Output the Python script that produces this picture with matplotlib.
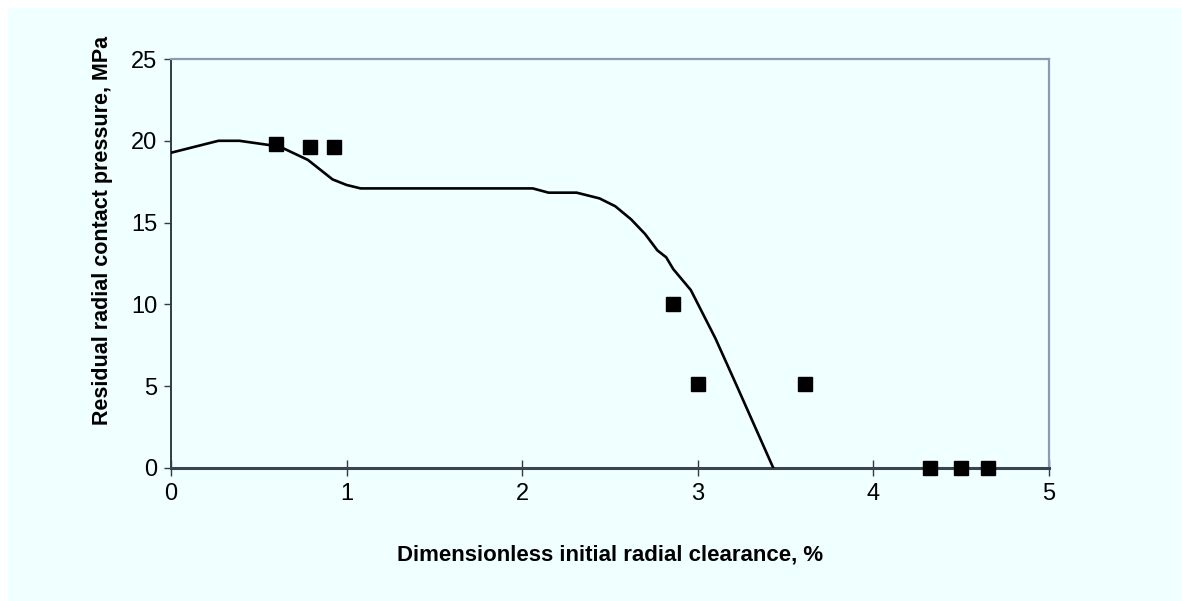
import matplotlib
matplotlib.use("Agg")
import matplotlib.pyplot as plt
from matplotlib.patches import Rectangle

# calculated curve
calc_x = [0, 0.27, 0.39, 0.56, 0.64, 0.78, 0.92, 1.0, 1.08, 2.06, 2.15, 2.31,
          2.44, 2.53, 2.62, 2.70, 2.77, 2.82, 2.86, 2.96, 3.10, 3.22, 3.43]
calc_y = [19.27, 20.0, 20.0, 19.74, 19.54, 18.83, 17.64, 17.3, 17.09, 17.09, 16.83, 16.83,
          16.48, 16.0, 15.2, 14.3, 13.3, 12.88, 12.16, 10.88, 7.93, 5.07, 0.0]

# experimental points
exp_x = [0.60, 0.79, 0.93, 2.86, 3.0, 3.61, 4.32, 4.5, 4.65]
exp_y = [19.8, 19.65, 19.65, 10.0, 5.15, 5.15, 0, 0, 0]

xticks = [0, 1, 2, 3, 4, 5]
yticks = [0, 5, 10, 15, 20, 25]

bg = "#F0FFFF"
plt.rcParams["font.family"] = ["Liberation Sans", "DejaVu Sans"]

fig = plt.figure(figsize=(11.81, 6.01), dpi=100)
fig.patch.set_facecolor("white")
fig.patches.append(Rectangle((8 / 1181, 0), 1, 1 - 8 / 601, transform=fig.transFigure,
                             facecolor=bg, edgecolor="none", zorder=-10))

ax = fig.add_axes([171 / 1181, 1 - 468 / 601, 878 / 1181, 409 / 601])
ax.set_facecolor(bg)

ax.plot(calc_x, calc_y, color="black", lw=1.9, zorder=3)
ax.plot(exp_x, exp_y, ls="none", marker="s", ms=10, color="black", clip_on=False, zorder=4)

ax.set_xlim(0, 5)
ax.set_ylim(0, 25)
ax.set_xticks(xticks)
ax.set_yticks(yticks)
ax.tick_params(axis="x", direction="inout", length=11, width=1, color="#333a44",
               labelsize=17, pad=5)
ax.tick_params(axis="y", direction="out", length=5, width=1, color="#333a44",
               labelsize=17, pad=5)

for s in ["top", "right"]:
    ax.spines[s].set_color("#8E9AB3")
    ax.spines[s].set_linewidth(1.6)
ax.spines["left"].set_color("#333a44")
ax.spines["left"].set_linewidth(1.4)
ax.spines["bottom"].set_color("#3a4450")
ax.spines["bottom"].set_linewidth(2.2)

ax.set_xlabel("Dimensionless initial radial clearance, %", fontsize=16, fontweight="bold")
ax.xaxis.set_label_coords(0.5, -0.186)
ax.set_ylabel("Residual radial contact pressure, MPa", fontsize=15.5, fontweight="bold")
ax.yaxis.set_label_coords(-0.066, 0.58)

fig.savefig("out.png", dpi=100, facecolor=fig.get_facecolor())
